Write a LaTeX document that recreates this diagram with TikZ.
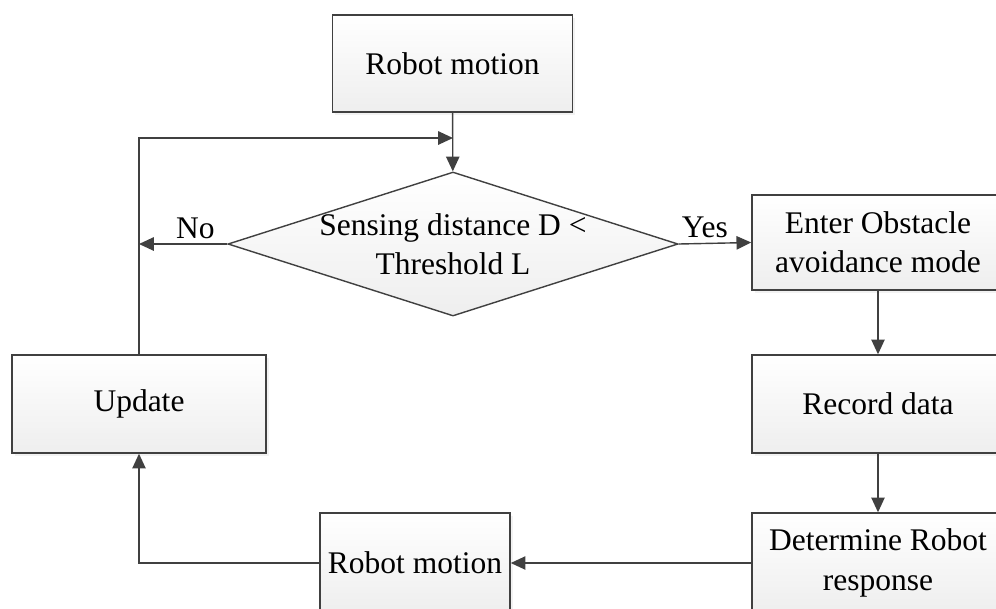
\documentclass[tikz,border=0pt]{standalone}
\usepackage{fontspec}
\setmainfont{Liberation Serif}
\usetikzlibrary{shapes.geometric,arrows.meta,shadows}
\definecolor{linegray}{HTML}{404040}
\definecolor{boxgray}{HTML}{EEEEEE}

\begin{document}
\begin{tikzpicture}[x=0.025cm,y=-0.025cm]

\tikzset{
  FlowText/.style = {font = \fontsize{22.4}{28}\selectfont},
  BoxStyle/.style = { rectangle, draw = linegray, line width = 1pt,
                      top color = white, bottom color = boxgray,
                      drop shadow = {opacity = 0.1, shadow xshift = 2pt,
                                     shadow yshift = -2pt},
                      align = center, inner sep = 0pt, FlowText },
  CheckStyle/.style = { diamond, draw = linegray, line width = 1pt,
                        top color = white, bottom color = boxgray,
                        inner sep = 0pt },
  FlowArrow/.style = { draw = linegray, line width = 1pt,
                       -{Triangle[length=10.5pt,width=9.5pt]} } }

  \useasboundingbox (0,0) rectangle (996,608);

  \node[BoxStyle, minimum width=6cm, minimum height=2.425cm] (motion1) at (452.5, 63.5) {Robot motion};
  \node[CheckStyle, minimum width=11.25cm, minimum height=3.6cm,
        label={[FlowText, align=center]center:Sensing distance D <\\Threshold L}] (check) at (453, 244) {};

  \node[BoxStyle, minimum width=6.3cm, minimum height=2.375cm] (avoid) at (878, 242.5) {Enter Obstacle\\avoidance mode};
  \node[BoxStyle, minimum width=6.3cm, minimum height=2.45cm] (record) at (878, 404) {Record data};
  \node[BoxStyle, minimum width=6.3cm, minimum height=2.5cm] (respond) at (878, 563) {Determine Robot\\response};

  \node[BoxStyle, minimum width=6.35cm, minimum height=2.45cm] (update) at (139, 404) {Update};
  \node[BoxStyle, minimum width=4.75cm, minimum height=2.5cm] (motion2) at (415, 563) {Robot motion};

  \coordinate (join) at (453, 138);

  \draw[FlowArrow] (motion1) -- (check);
  \draw[FlowArrow] (check.west) -- node[above, pos=0.36, FlowText] (nolbl) {No} (check.west -| update.north);
  \draw[FlowArrow] (update.north) -- (update.north |- join) -- (join);
  \draw[FlowArrow] (check.east) -- node[above, pos=0.36, FlowText] (yeslbl) {Yes} (avoid.west);
  \draw[FlowArrow] (avoid) -- (record);
  \draw[FlowArrow] (record) -- (respond);
  \draw[FlowArrow] (respond) -- (motion2);
  \draw[FlowArrow] (motion2.west) -- (motion2.west -| update.south) -- (update.south);

\end{tikzpicture}
\end{document}
